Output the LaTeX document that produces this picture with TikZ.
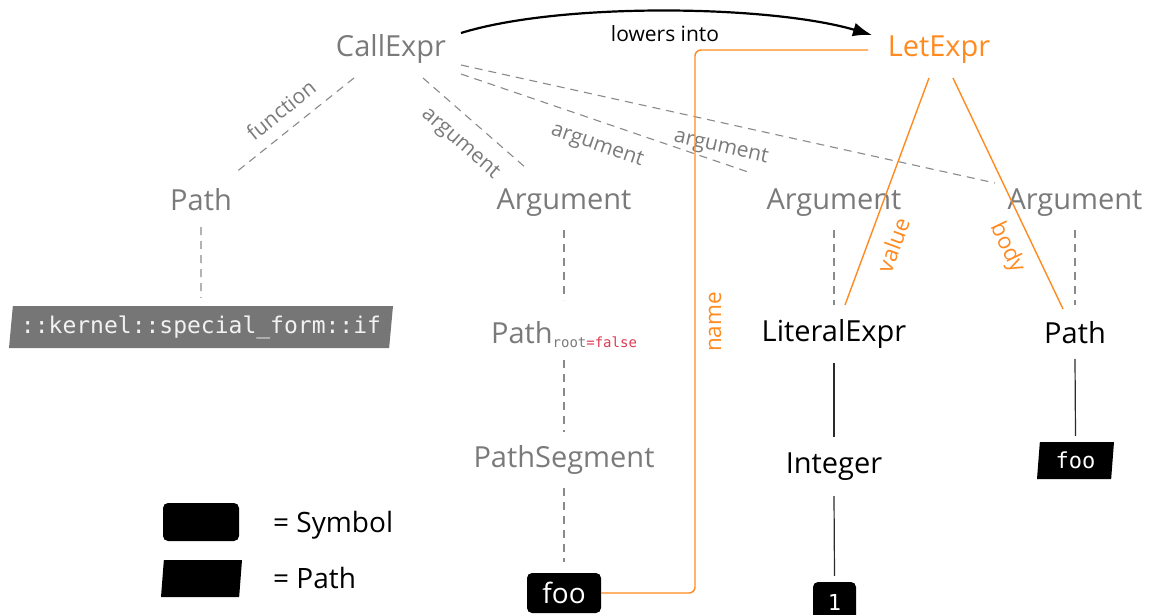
\documentclass[tikz,border=0pt]{standalone}
\usepackage{fontspec}
\setmainfont{Open Sans}
\newfontfamily\monofont{DejaVu Sans Mono}
\usetikzlibrary{shapes.geometric,arrows.meta,calc}
\definecolor{txtgray}{HTML}{7A7A7A}
\definecolor{linegray}{HTML}{8A8A8A}
\definecolor{accent}{HTML}{FF8A1F}
\definecolor{falsered}{HTML}{DC3A52}
\definecolor{pathgray}{HTML}{767676}
\definecolor{ink}{HTML}{2A2A2A}
\begin{document}
\begin{tikzpicture}[x=1pt,y=-1pt,
  ast/.style={font=\fontsize{29}{34}\selectfont, inner sep=0pt, anchor=base},
  old/.style={ast, text=txtgray},
  new/.style={ast, text=black},
  edgelbl/.style={font=\fontsize{21}{25}\selectfont, text=txtgray, inner sep=0pt},
  letlbl/.style={font=\fontsize{22.5}{26}\selectfont, text=accent, inner sep=0pt},
  oldlink/.style={draw=linegray, line width=1.1pt, dash pattern=on 8pt off 6pt},
  newlink/.style={draw=ink, line width=1.2pt},
  letlink/.style={draw=accent, line width=1.4pt},
  symbolbox/.style={fill=black, rounded corners=5pt, text=white, inner sep=0pt},
  pathbox/.style={trapezium, trapezium left angle=80.5, trapezium right angle=99.5,
    trapezium stretches body, inner sep=0pt, fill=black, text=white},
  mono/.style={font=\monofont\fontsize{#1}{#1}\selectfont}
]
\useasboundingbox (0,0) rectangle (1152,615);

% ---- original call tree ----
\node[old] (call) at (391,57) {CallExpr};
\node[old] (pathL) at (201,211) {Path};
\node[old] (arg1) at (564,209) {Argument};
\node[old] (arg2) at (834,209) {Argument};
\node[old] (arg3) at (1075,209) {Argument};
\node[pathbox, fill=pathgray, text=white!95!black, minimum width=384pt, minimum height=42pt, mono=23]
  (kernel) at (201,327) {::kernel::special\_form::if};
\node[old] (pathroot) at (564,343) {Path\raisebox{-4pt}{\monofont\fontsize{14}{14}\selectfont root\textcolor{falsered}{=false}}};
\node[old] (pathseg) at (564,467) {PathSegment};
\node[symbolbox, minimum width=74pt, minimum height=40pt, font=\fontsize{28}{34}\selectfont]
  (fooS) at (564,593) {foo};

% ---- lowered let tree ----
\node[ast, text=accent] (let) at (939,57) {LetExpr};
\node[new] (literal) at (834,341) {LiteralExpr};
\node[new] (integer) at (834,473) {Integer};
\node[symbolbox, minimum width=43pt, minimum height=40pt, mono=22] (one) at (834.5,602) {1};
\node[new] (pathR) at (1075,343) {Path};
\node[pathbox, minimum width=77pt, minimum height=37pt, mono=22] (fooP) at (1075.5,460.5) {foo};

% ---- call tree edges ----
\draw[oldlink] ([shift={(-37,21)}]call.base) -- ([shift={(34,-38)}]pathL.base);
\draw[oldlink] ([shift={(32,21)}]call.base) -- ([shift={(-38,-41)}]arg1.base);
\draw[oldlink] ([shift={(70,17)}]call.base) -- ([shift={(-83,-36)}]arg2.base);
\draw[oldlink] ([shift={(70,8)}]call.base) -- ([shift={(-80,-26)}]arg3.base);
\draw[oldlink] ([shift={(0,16)}]pathL.base) -- ([shift={(0,-8)}]kernel.north);
\draw[oldlink] ([shift={(0,21)}]arg1.base) -- ([shift={(0,-43)}]pathroot.base);
\draw[oldlink] ([shift={(0,17)}]pathroot.base) -- ([shift={(0,-35)}]pathseg.base);
\draw[oldlink] ([shift={(0,21)}]pathseg.base) -- ([shift={(0,-11)}]fooS.north);
\draw[oldlink] ([shift={(0,21)}]arg2.base) -- ([shift={(0,-36)}]literal.base);
\draw[oldlink] ([shift={(0,21)}]arg3.base) -- ([shift={(0,-38)}]pathR.base);

\node[edgelbl, rotate=38.6] (lfun) at (281,110) {function};
\node[edgelbl, rotate=-41.1] (larg1) at (460,144) {argument};
\node[edgelbl, rotate=-18.9] (larg2) at (597,146) {argument};
\node[edgelbl, rotate=-12.5] (larg3) at (721,148) {argument};

% ---- let tree edges ----
\draw[newlink] ([shift={(0,22)}]literal.base) -- ([shift={(0,-36)}]integer.base);
\draw[newlink] ([shift={(0,23)}]integer.base) -- ([shift={(0,-6)}]one.north);
\draw[newlink] ([shift={(0,16)}]pathR.base) -- ([shift={(0,-6)}]fooP.north);
\draw[letlink] ([shift={(-10,21)}]let.base) -- ([shift={(11,-36)}]literal.base);
\draw[letlink] ([shift={(14,21)}]let.base) -- ([shift={(-12,-34)}]pathR.base);
\draw[letlink, rounded corners=6pt] (fooS.east) -| ([shift={(-244,-7)}]let.base) -- ([shift={(-71,-7)}]let.base);

\node[letlbl, rotate=69.7] (lvalue) at (893,245) {value};
\node[letlbl, rotate=-64.5] (lbody) at (1007,248) {body};
\node[letlbl, rotate=90] (lname) at (715,322) {name};

% ---- lowering arrow ----
\draw[line width=2.2pt, -{Latex[length=19pt,width=14pt]}]
  ([shift={(70,-24)}]call.base) .. controls +(100,-31) and +(-102,-30) .. ([shift={(-67,-22)}]let.base);
\node[font=\fontsize{21}{25}\selectfont, inner sep=0pt, anchor=base] (lowers) at (665,42) {lowers into};

% ---- legend ----
\node[symbolbox, minimum width=76pt, minimum height=38pt] (keysym) at (201,522) {};
\node[pathbox, minimum width=81pt, minimum height=37pt, mono=22] (keypath) at (201.5,578.5) {\phantom{foo}};
\node[font=\fontsize{28}{34}\selectfont, inner sep=0pt, anchor=base west] (keysymtxt) at (273,532) {= Symbol};
\node[font=\fontsize{28}{34}\selectfont, inner sep=0pt, anchor=base west] (keypathtxt) at (273,588) {= Path};
\end{tikzpicture}
\end{document}
